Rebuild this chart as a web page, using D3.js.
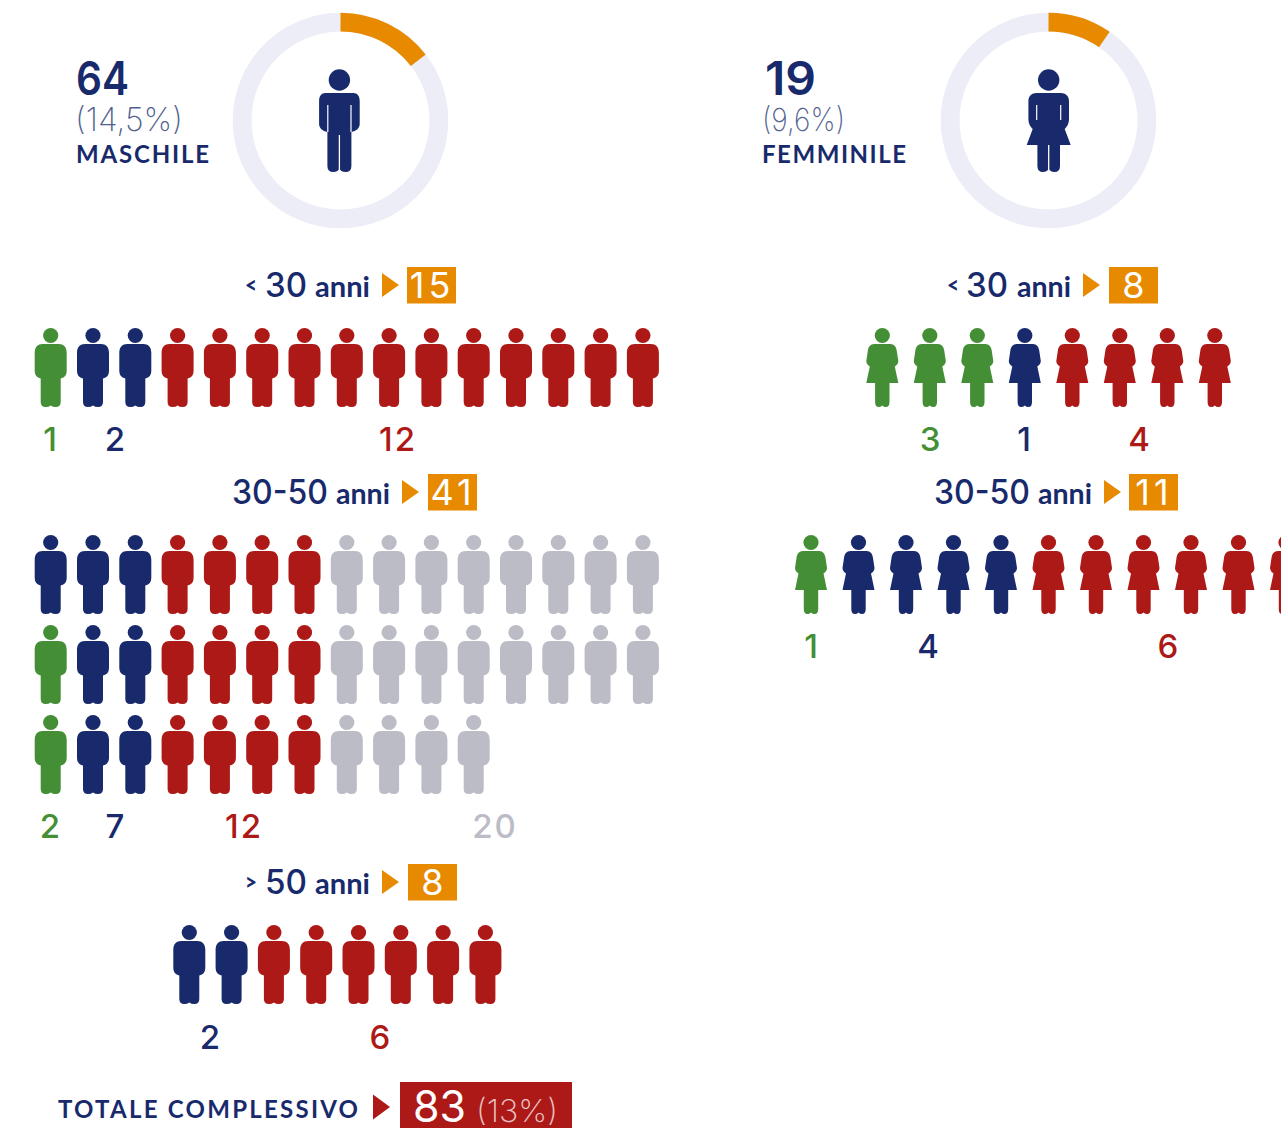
<!DOCTYPE html>
<html><head><meta charset="utf-8">
<script src="https://cdn.jsdelivr.net/npm/d3@7"></script>
<style>html,body{margin:0;background:#fff;overflow:hidden}svg{display:block}text{font-family:Lato,sans-serif}</style>
</head><body><svg id="c" width="1281" height="1128"></svg>
<script>
// ---- data ----
const seriesNames = ["verde","blu","rosso","grigio"];
const genderNames = ["MASCHILE","FEMMINILE"];
const genderTotals = [64,19];
const genderPct = [14.5,9.6];
const genderPctText = ["(14,5%)","(9,6%)"];
const ageLabels = ["30","30-50","50"];
const agePrefix = ["<","",">"];
const maleAgeTotals = [15,41,8];
const femaleAgeTotals = [8,11];
const maleUnder30Rows = [[1,2,12,0]];
const male3050Rows = [[0,3,4,8],[1,2,4,8],[1,2,4,4]];
const maleOver50Rows = [[0,2,6,0]];
const femaleUnder30Rows = [[3,1,4,0]];
const female3050Rows = [[1,4,6,0]];
const maleUnder30Labels = [1,2,12];
const male3050Labels = [2,7,12,20];
const maleOver50Labels = [2,6];
const femaleUnder30Labels = [3,1,4];
const female3050Labels = [1,4,6];
const grandTotal = 83;
const grandPctText = "(13%)";

// ---- style ----
const NUM="Inter,sans-serif";
const NAVY="#182a6b",RED="#ac1916",GREEN="#448f35",GREY="#bcbcc6",ORANGE="#e88a00",RING="#ecedf7";
const colors=d3.scaleOrdinal(seriesNames,[GREEN,NAVY,RED,GREY]);
const MALE="M-8,16H8C13,16 16,19 16,25V43C16,47 14,49.5 10,50.5V74Q10,79 5,79Q2,79 0,77.5Q-2,79 -5,79Q-10,79 -10,74V50.5C-14,49.5 -16,47 -16,43V25C-16,19 -13,16 -8,16Z";
const FEMALE="M-8,16H8C12,16 14,19 14.5,23L16,33Q16,36 12.5,38.5L16,55H7.2V74Q7.2,79 3.6,79Q1.5,79 0,77.5Q-1.5,79 -3.6,79Q-7.2,79 -7.2,74V55H-16L-12.5,38.5Q-16,36 -16,33L-14.5,23C-14,19 -12,16 -8,16Z";
const BIGMALE="M-14,24H14C18,24 20.3,27 20.3,32V55C20.3,59 17,62 12,63V97Q12,103 6,103Q2,103 0,100Q-2,103 -6,103Q-12,103 -12,97V63C-17,62 -20.3,59 -20.3,55V32C-20.3,27 -18,24 -14,24Z";
const BIGFEMALE="M-12,24H12C17,24 20.3,27 20.3,32V50C20.3,55 18,58 16,60L22,76H11.3V97Q11.3,103 5.6,103Q2,103 0,100Q-2,103 -5.6,103Q-11.3,103 -11.3,97V76H-22L-16,60C-18,58 -20.3,55 -20.3,50V32C-20.3,27 -17,24 -12,24Z";

const svg=d3.select("#c");
const arc=d3.arc();
const pctScale=d3.scaleLinear([0,100],[0,2*Math.PI]);
const txt=(t,x,y,o={})=>{const s=svg.append("text").attr("x",x).attr("y",y).attr("fill",o.fill||NAVY)
  .attr("font-size",o.size||34).attr("font-weight",o.weight||400).attr("text-anchor",o.anchor||"start").text(t);
  if(o.font)s.style("font-family",o.font);
  if(o.spacing)s.style("letter-spacing",o.spacing+"px");
  if(o.len)s.attr("textLength",o.len).attr("lengthAdjust",o.adjust||"spacingAndGlyphs");
  if(o.opacity)s.attr("opacity",o.opacity);return s;};
const tri=(x,y,w,h,f)=>svg.append("path").attr("d",d3.line()([[x,y-h/2],[x+w,y],[x,y+h/2]])+"Z").attr("fill",f);

// rings
[[340.5,339.4,0,76,129,75,183,76,210],[1048.5,1048.7,1,765,816,762,845,762,907]].forEach(([cx,ix,i,nx,nx2,px,px2,lx,lx2])=>{
  const g=svg.append("g").attr("transform",`translate(${cx},120.5)`);
  g.append("path").attr("d",arc({innerRadius:89,outerRadius:107.8,startAngle:0,endAngle:2*Math.PI})).attr("fill",RING);
  g.append("path").attr("d",arc({innerRadius:89,outerRadius:107.8,startAngle:0,endAngle:pctScale(genderPct[i])})).attr("fill",ORANGE);
  const f=svg.append("g").attr("transform",`translate(${ix},69)`);
  f.append("circle").attr("cy",11).attr("r",10.7).attr("fill",NAVY);
  f.append("path").attr("d",i?BIGFEMALE:BIGMALE).attr("fill",NAVY);
  const slit=i?[36,51,12]:[36,63,11.6];
  [-1,1].forEach(s=>f.append("line").attr("x1",s*slit[2]).attr("x2",s*slit[2]).attr("y1",slit[0]).attr("y2",slit[1]).attr("stroke","#fff").attr("stroke-width",1.2));
  f.append("line").attr("x1",0).attr("x2",0).attr("y1",i?76:66).attr("y2",101).attr("stroke","#fff").attr("stroke-width",1.3);
  txt(genderTotals[i],nx,95,{size:46,weight:600,len:nx2-nx,font:NUM});
  txt(genderPctText[i],px,131,{size:32,weight:200,fill:"#52628f",len:px2-px,font:NUM});
  txt(genderNames[i],lx,163,{size:24,weight:700,len:lx2-lx-1,adjust:"spacing"});
});

// pictogram rows
const maleX=d3.scaleLinear([0,1],[50.7,93]);
const femX0=d3.scaleLinear([0,1],[882.3,929.8]);
const femX1=d3.scaleLinear([0,1],[811,858.5]);
const maleX50=d3.scaleLinear([0,1],[189.3,231.6]);
function rows(data,x,tops,shape){
  data.forEach((counts,r)=>{
    const items=counts.flatMap((c,k)=>d3.range(c).map(()=>seriesNames[k]));
    const g=svg.append("g").attr("transform",`translate(0,${tops[r]})`);
    const fig=g.selectAll("g").data(items).join("g").attr("transform",(d,i)=>`translate(${x(i)},0)`).attr("fill",d=>colors(d));
    fig.append("circle").attr("cy",7.5).attr("r",7.6);
    fig.append("path").attr("d",shape);
  });
}
rows(maleUnder30Rows,maleX,[328],MALE);
rows(male3050Rows,maleX,[535,625,715],MALE);
rows(maleOver50Rows,maleX50,[925],MALE);
rows(femaleUnder30Rows,femX0,[328],FEMALE);
rows(female3050Rows,femX1,[535],FEMALE);

function labels(vals,xs,y,cols){vals.forEach((v,i)=>txt(v,xs[i],y,{size:33,weight:450,anchor:"middle",fill:cols[i],font:NUM,spacing:v>9?2:0}));}
labels(maleUnder30Labels,[50,115,398],451,[GREEN,NAVY,RED]);
labels(male3050Labels,[50,115,244,495],838,[GREEN,NAVY,RED,GREY]);
labels(maleOver50Labels,[210,380],1049,[NAVY,RED]);
labels(femaleUnder30Labels,[930,1024,1139],451,[GREEN,NAVY,RED]);
labels(female3050Labels,[811,928,1168],658,[GREEN,NAVY,RED]);

// age headings
function heading(prefix,age,total,y,o){
  if(prefix)txt(prefix,o.p,y+25.5,{size:22,weight:900,len:12});
  txt(age,o.a,y+29.5,{size:34,weight:500,len:o.a2-o.a,font:NUM});
  txt("anni",o.n,y+29.5,{size:28,weight:700,len:o.n2-o.n});
  tri(o.t,y+18,17,24,ORANGE);
  svg.append("rect").attr("x",o.b).attr("y",y).attr("width",49).attr("height",36.5).attr("fill",ORANGE);
  txt(total,o.b+24.5+(total>9?0.5:0),y+30.5,{size:36,weight:400,fill:"#fff",anchor:"middle",font:NUM,spacing:total>9?4:0});
}
heading(agePrefix[0],ageLabels[0],maleAgeTotals[0],267,{p:245,a:265,a2:307,n:315,n2:370,t:382,b:407});
heading(agePrefix[1],ageLabels[1],maleAgeTotals[1],474,{a:232,a2:328,n:336,n2:390,t:402,b:428});
heading(agePrefix[2],ageLabels[2],maleAgeTotals[2],864,{p:245,a:265,a2:307,n:315,n2:370,t:382,b:408});
heading(agePrefix[0],ageLabels[0],femaleAgeTotals[0],267,{p:947,a:966,a2:1008,n:1017,n2:1071,t:1083,b:1109});
heading(agePrefix[1],ageLabels[1],femaleAgeTotals[1],474,{a:934,a2:1030,n:1038,n2:1092,t:1104,b:1129});

// grand total
txt("TOTALE COMPLESSIVO",58,1118,{size:24,weight:700,len:300,adjust:"spacing"});
tri(373,1107,17,25,RED);
svg.append("rect").attr("x",400).attr("y",1082).attr("width",172).attr("height",46).attr("fill",RED);
txt(grandTotal,413,1122,{size:44,weight:400,fill:"#fff",len:53,font:NUM});
txt(grandPctText,476,1122,{size:31,weight:200,fill:"#fff",opacity:.75,len:82,font:NUM});
</script></body></html>
